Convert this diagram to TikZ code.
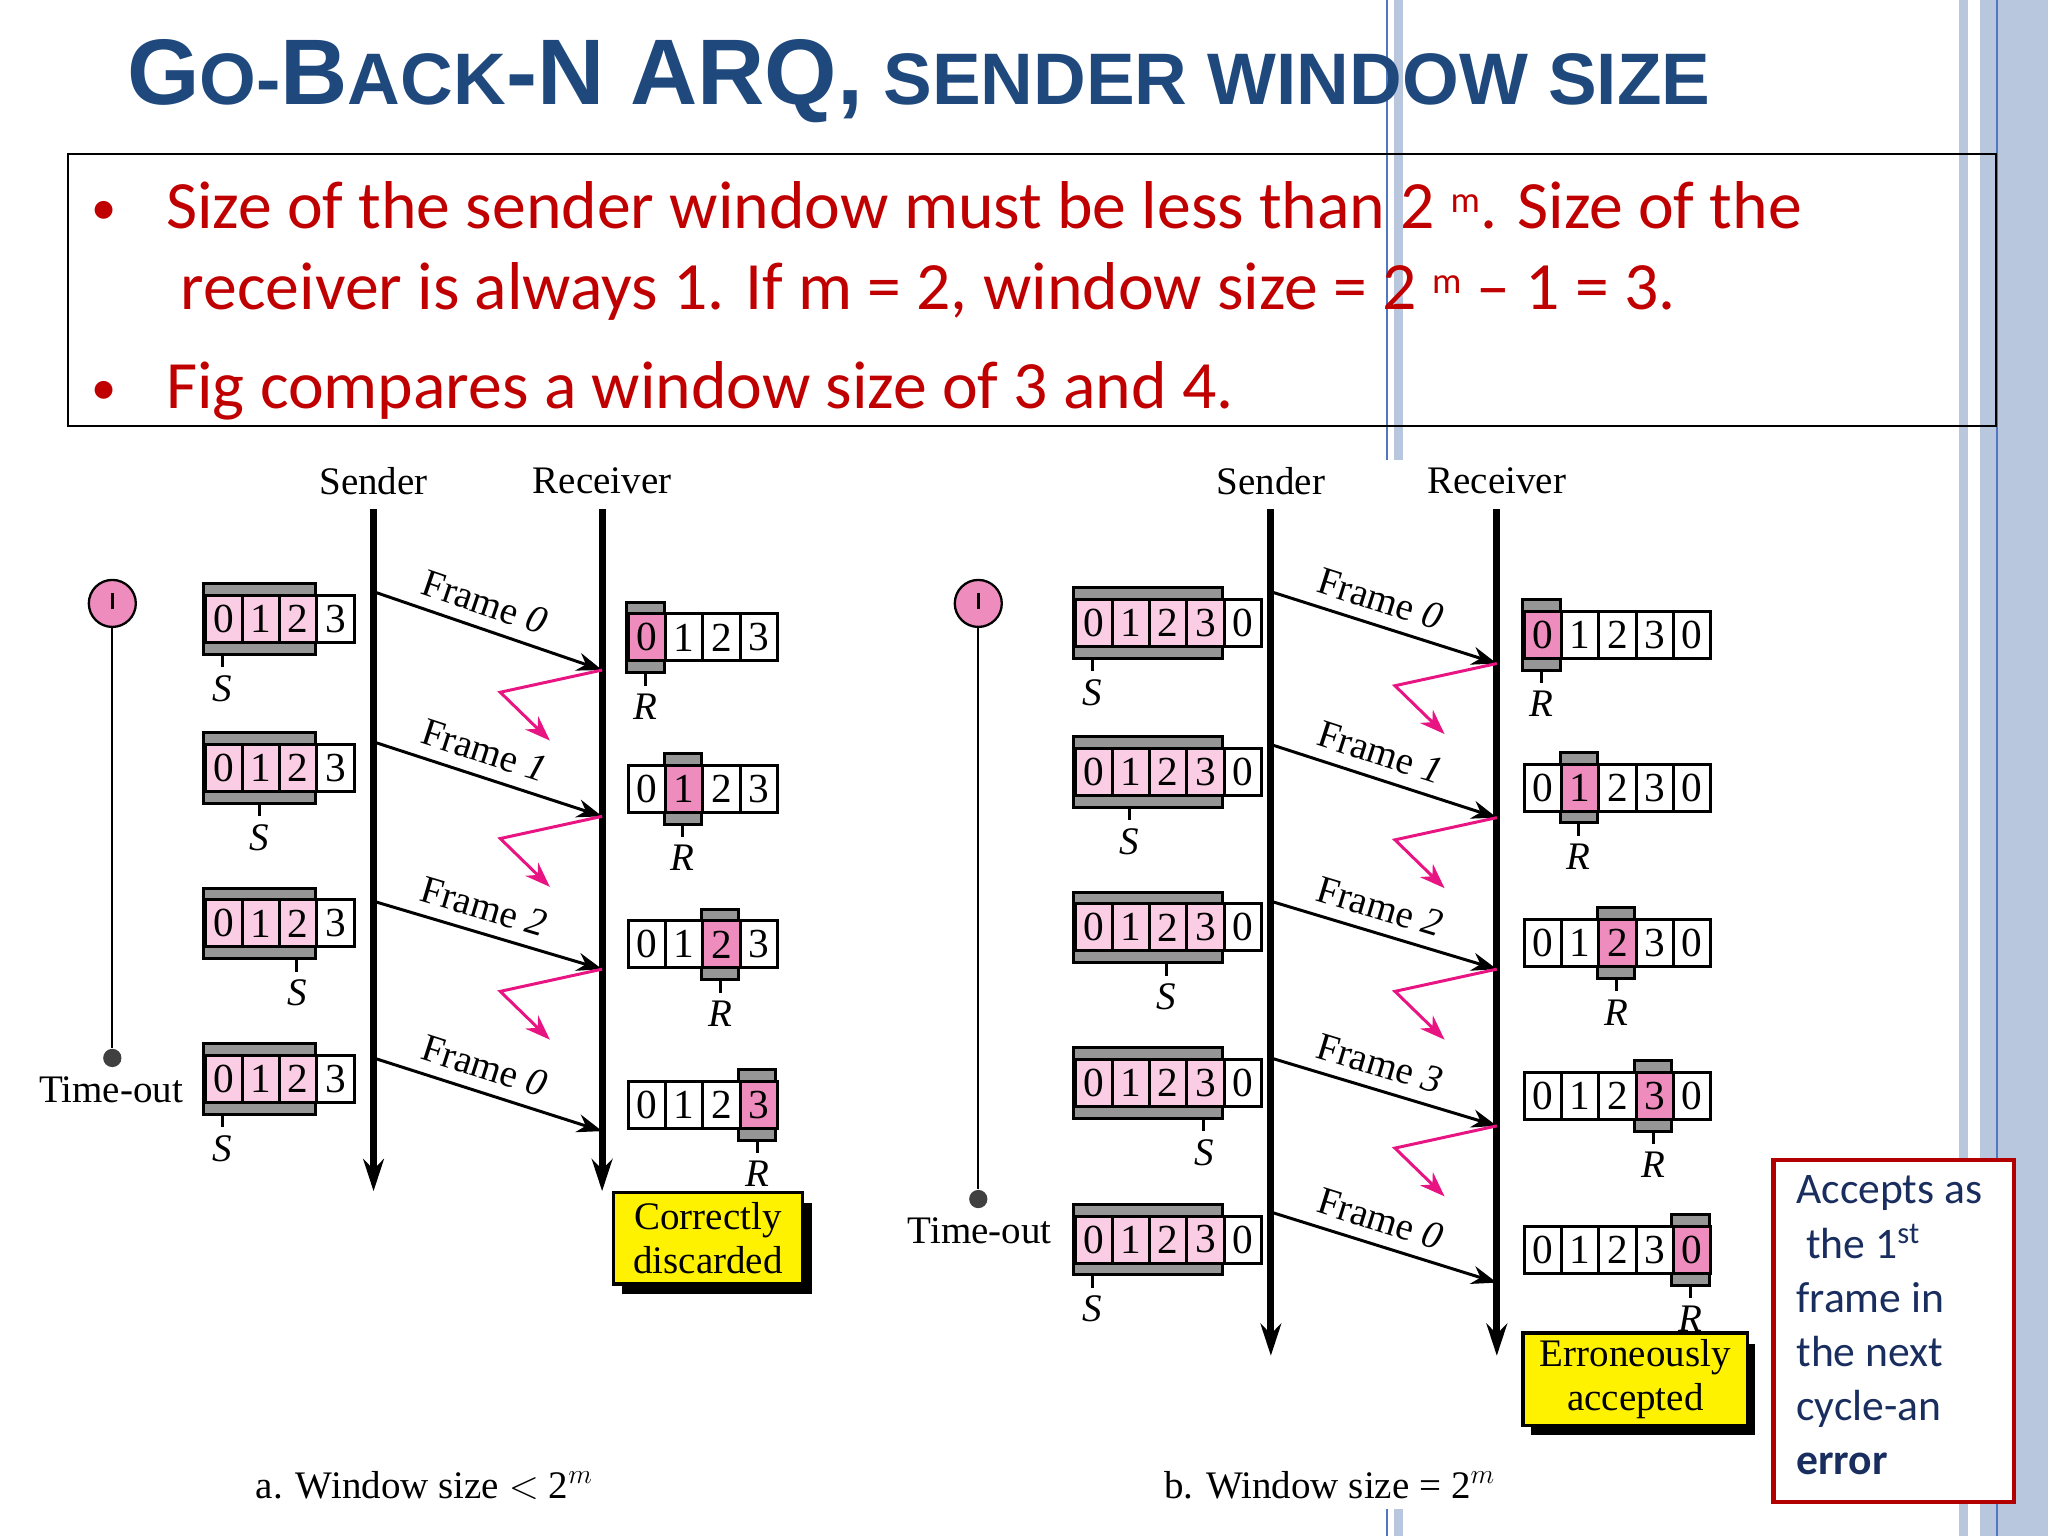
\documentclass[tikz,border=0pt]{standalone}
\usepackage{fontspec}
\setmainfont{Liberation Serif}
\newfontfamily\hd{Liberation Sans}
\newfontfamily\cb{Carlito}
\usetikzlibrary{arrows.meta,calc}
\definecolor{ttl}{RGB}{31,73,125}
\definecolor{bred}{RGB}{192,0,0}
\definecolor{lpink}{RGB}{250,205,228}
\definecolor{hpink}{RGB}{238,140,190}
\definecolor{gbar}{RGB}{150,150,150}
\definecolor{ack}{RGB}{232,20,130}
\definecolor{stripe}{RGB}{184,199,222}
\definecolor{stripeD}{RGB}{80,120,190}
\definecolor{navy}{RGB}{25,45,95}
\tikzset{
  cell/.style={draw,line width=1.3pt,minimum width=28.5*0.02cm,minimum height=36*0.02cm,inner sep=0,font=\fontsize{18}{18}\selectfont},
  frm/.style={-{Stealth[length=11pt,width=8pt]},line width=1.3pt},
  ackl/.style={ack,line width=1.3pt,-{Stealth[length=11pt,width=8pt]}},
  tline/.style={line width=3pt,-{Stealth[length=14pt,width=9pt]}},
  lbl/.style={font=\fontsize{17}{18}\selectfont},
  flbl/.style={font=\fontsize{17}{18}\selectfont,sloped,above,inner sep=5pt},
  mk/.style={font=\fontsize{17}{17}\selectfont\itshape},
  ybox/.style={draw,line width=1.5pt,fill=yellow,align=center,font=\fontsize{17}{19}\selectfont,inner sep=3pt},
}
% sender window: x0, yc, ncells, nwin, spos, name
\newcommand\swin[6]{%
  \fill[gbar] (#1,#2-27) rectangle ++(#4*28.5,9);
  \fill[gbar] (#1,#2+18) rectangle ++(#4*28.5,9);
  \draw[line width=1.3pt] (#1,#2-27) rectangle ++(#4*28.5,54);
  \foreach \i [count=\c from 0] in {0,1,2,3,0} {%
    \ifnum\c<#3
      \ifnum\c<#4
        \node[cell,fill=lpink,anchor=west] at (#1+\c*28.5,#2) {\i};
      \else
        \node[cell,fill=white,anchor=west] at (#1+\c*28.5,#2) {\i};
      \fi
    \fi}
  \draw[line width=1.3pt] (#1+#5*28.5+14.25,#2+27) -- ++(0,10) coordinate (#6);
  \node[mk,anchor=north] at (#6) {S};
}
% receiver window: x0, yc, ncells, rpos, name
\newcommand\rwin[5]{%
  \fill[gbar] (#1+#4*28.5,#2-27) rectangle ++(28.5,54);
  \draw[line width=1.3pt] (#1+#4*28.5,#2-27) rectangle ++(28.5,54);
  \foreach \i [count=\c from 0] in {0,1,2,3,0} {%
    \ifnum\c<#3
      \ifnum\c=#4
        \node[cell,fill=hpink,anchor=west] at (#1+\c*28.5,#2) {\i};
      \else
        \node[cell,fill=white,anchor=west] at (#1+\c*28.5,#2) {\i};
      \fi
    \fi}
  \draw[line width=1.3pt] (#1+#4*28.5+14.25,#2+27) -- ++(0,10) coordinate (#5);
  \node[mk,anchor=north] at (#5) {R};
}
\begin{document}
\begin{tikzpicture}[x=0.02cm,y=-0.02cm]
\useasboundingbox (0,0) rectangle (1568,1176);
% decorations
\fill[stripe] (1516,0) rectangle (1568,1176);
\draw[stripeD,line width=0.6pt] (1529,0) -- (1529,1176);
\fill[stripe] (1500,0) rectangle (1507,1176);
\fill[stripe] (1067,0) rectangle (1074,352);
\draw[stripeD,line width=0.6pt] (1062,0) -- (1062,352);
\fill[stripe] (1067,1155) rectangle (1074,1176);
\draw[stripeD,line width=0.6pt] (1062,1155) -- (1062,1176);
% title
\node[anchor=base west,inner sep=0,text=ttl,font=\hd\bfseries] (title) at (97,80)
 {\fontsize{40.6}{42}\selectfont G\fontsize{31.8}{33}\selectfont O-\fontsize{40.6}{42}\selectfont B\fontsize{31.8}{33}\selectfont ACK\fontsize{40.6}{42}\selectfont -N ARQ,\fontsize{31.8}{33}\selectfont{} SENDER WINDOW SIZE};
% bullet box
\draw[line width=0.8pt] (52,118) rectangle (1528,326);
\begin{scope}[every node/.style={anchor=base west,inner sep=0,text=bred,font=\cb\fontsize{29.5}{32}\selectfont}]
\node[font=\cb\fontsize{22}{22}\selectfont] (b1) at (70,172) {•};
\node (l1) at (127,175) {Size of the sender window must be less than 2 \raisebox{0.5ex}{\fontsize{16}{16}\selectfont m}. Size of the};
\node (l2) at (138,237) {receiver is always 1. If m = 2, window size = 2 \raisebox{0.5ex}{\fontsize{16}{16}\selectfont m} – 1 = 3.};
\node[font=\cb\fontsize{22}{22}\selectfont] (b2) at (70,310) {•};
\node (l3) at (127,313) {Fig compares a window size of 3 and 4.};
\end{scope}
% ===== part a =====
\node[lbl] (sa) at (286,368) {Sender};
\node[lbl] (ra) at (461,368) {Receiver};
\coordinate (sat) at (286,390); \coordinate (sab) at (286,912);
\coordinate (rat) at (461,390); \coordinate (rab) at (461,912);
\draw[tline] (sat) -- (sab);
\draw[tline] (rat) -- (rab);
\swin{156}{474}{4}{3}{0}{sa1}
\swin{156}{588}{4}{3}{1}{sa2}
\swin{156}{707}{4}{3}{2}{sa3}
\swin{156}{826}{4}{3}{0}{sa4}
\rwin{480}{488}{4}{0}{ra1}
\rwin{480}{604}{4}{1}{ra2}
\rwin{480}{723}{4}{2}{ra3}
\rwin{480}{846}{4}{3}{ra4}
\foreach \ys/\ye/\f [count=\k] in {453/513/0,568/625/1,690/742/2,810/866/0}{
  \coordinate (fa\k s) at (286,\ys); \coordinate (fa\k e) at (461,\ye);
  \draw[frm] (fa\k s) -- node[flbl,pos=0.45] {Frame \textit{\f}} (fa\k e);
}
\foreach \k in {1,2,3}{
  \coordinate (aa\k m) at ($(fa\k e)+(-78,17)$);
  \coordinate (aa\k t) at ($(fa\k e)+(-40,54)$);
  \draw[ackl] (fa\k e) -- (aa\k m) -- (aa\k t);
}
\node[circle,draw,fill=hpink,line width=1pt,minimum size=36*0.02cm,inner sep=0] (ca) at (86,462) {};
\draw[line width=1.2pt] (86,454) -- (86,466);
\node[circle,fill=black!75,minimum size=14*0.02cm,inner sep=0] (da) at (86,810) {};
\draw[line width=1pt] (ca) -- (da);
\node[lbl] (toa) at (85,834) {Time-out};
\fill (476,921) rectangle (622,991);
\node[ybox,minimum width=145*0.02cm,minimum height=70*0.02cm] (cd) at (542,948) {Correctly\\discarded};
\node[lbl,anchor=base] (capa) at (325,1147) {a. Window size $<$ 2$^m$};
% ===== part b =====
\node[lbl] (sb) at (973,368) {Sender};
\node[lbl] (rb) at (1146,368) {Receiver};
\coordinate (sbt) at (973,390); \coordinate (sbb) at (973,1038);
\coordinate (rbt) at (1146,390); \coordinate (rbb) at (1146,1038);
\draw[tline] (sbt) -- (sbb);
\draw[tline] (rbt) -- (rbb);
\swin{822}{477}{5}{4}{0}{sb1}
\swin{822}{591}{5}{4}{1}{sb2}
\swin{822}{710}{5}{4}{2}{sb3}
\swin{822}{829}{5}{4}{3}{sb4}
\swin{822}{949}{5}{4}{0}{sb5}
\rwin{1166}{486}{5}{0}{rb1}
\rwin{1166}{603}{5}{1}{rb2}
\rwin{1166}{722}{5}{2}{rb3}
\rwin{1166}{839}{5}{3}{rb4}
\rwin{1166}{957}{5}{4}{rb5}
\foreach \ys/\ye/\f [count=\k] in {453/508/0,570/626/1,690/742/2,810/862/3,928/982/0}{
  \coordinate (fb\k s) at (973,\ys); \coordinate (fb\k e) at (1146,\ye);
  \draw[frm] (fb\k s) -- node[flbl,pos=0.45] {Frame \textit{\f}} (fb\k e);
}
\foreach \k in {1,2,3,4}{
  \coordinate (ab\k m) at ($(fb\k e)+(-78,17)$);
  \coordinate (ab\k t) at ($(fb\k e)+(-40,54)$);
  \draw[ackl] (fb\k e) -- (ab\k m) -- (ab\k t);
}
\node[circle,draw,fill=hpink,line width=1pt,minimum size=36*0.02cm,inner sep=0] (cb) at (749,462) {};
\draw[line width=1.2pt] (749,454) -- (749,466);
\node[circle,fill=black!75,minimum size=14*0.02cm,inner sep=0] (db) at (749,918) {};
\draw[line width=1pt] (cb) -- (db);
\node[lbl] (tob) at (750,942) {Time-out};
\fill (1172,1029) rectangle (1344,1099);
\node[ybox,minimum width=172*0.02cm,minimum height=70*0.02cm] (ea) at (1252,1056) {Erroneously\\accepted};
\node[lbl,anchor=base] (capb) at (1018,1147) {b. Window size = 2$^m$};
% red note
\draw[draw=red!70!black,line width=2pt,fill=white] (1358,888) rectangle (1542,1150);
\node[anchor=north west,align=left,text=navy,font=\cb\fontsize{19}{23.6}\selectfont,inner sep=0] (note) at (1375,900)
 {Accepts as\\ \ the 1\textsuperscript{st}\\frame in\\the next\\cycle-an\\\textbf{error}};
\end{tikzpicture}
\end{document}
